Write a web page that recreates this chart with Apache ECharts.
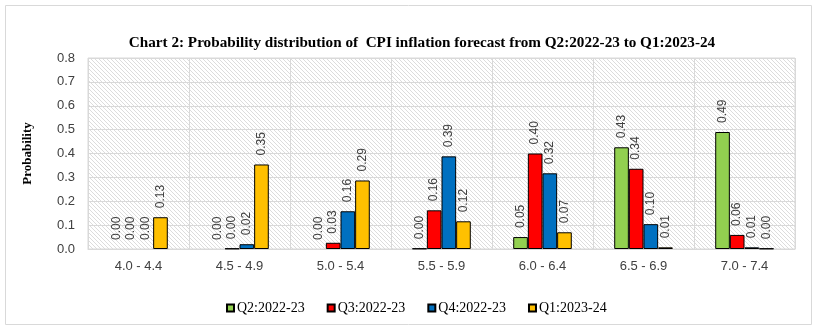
<!DOCTYPE html>
<html><head><meta charset="utf-8">
<script src="https://cdn.jsdelivr.net/npm/echarts@6/dist/echarts.min.js"></script>
<style>html,body{margin:0;padding:0;background:#fff}#c{width:817px;height:330px}</style>
</head><body><div id="c"></div>
<script>
const categories = ['4.0 - 4.4', '4.5 - 4.9', '5.0 - 5.4', '5.5 - 5.9', '6.0 - 6.4', '6.5 - 6.9', '7.0 - 7.4'];
const seriesNames = ['Q2:2022-23', 'Q3:2022-23', 'Q4:2022-23', 'Q1:2023-24'];
const q2_2022_23 = [0, 0, 0, 0.002, 0.05, 0.426, 0.49];
const q3_2022_23 = [0, 0.002, 0.026, 0.162, 0.40, 0.336, 0.059];
const q4_2022_23 = [0, 0.02, 0.158, 0.388, 0.317, 0.104, 0.007];
const q1_2023_24 = [0.133, 0.354, 0.287, 0.116, 0.07, 0.007, 0.002];
const yTicks = [0, 0.1, 0.2, 0.3, 0.4, 0.5, 0.6, 0.7, 0.8];
const colors = ['#92d050', '#ff0000', '#0070c0', '#ffc000'];

const pc = document.createElement('canvas');
pc.width = 4; pc.height = 4;
const g = pc.getContext('2d');
g.fillStyle = '#ffffff'; g.fillRect(0, 0, 4, 4);
g.strokeStyle = '#dcdcdc'; g.lineWidth = 1;
g.beginPath(); g.moveTo(-1, -1); g.lineTo(5, 5); g.moveTo(-1, 3); g.lineTo(1, 5); g.moveTo(3, -1); g.lineTo(5, 1); g.stroke();

const allData = [q2_2022_23, q3_2022_23, q4_2022_23, q1_2023_24];
const chart = echarts.init(document.getElementById('c'));
chart.setOption({
  animation: false,
  title: {
    text: 'Chart 2: Probability distribution of  CPI inflation forecast from Q2:2022-23 to Q1:2023-24',
    left: 417, top: 31, textAlign: 'center',
    textStyle: { fontFamily: 'Liberation Serif', fontWeight: 'bold', fontSize: 15.2, color: '#000' }
  },
  graphic: [{
    type: 'rect', shape: { x: 5.5, y: 5.5, width: 806, height: 319 },
    style: { fill: 'none', stroke: '#d9d9d9', lineWidth: 1 }, silent: true, z: -10
  }],
  legend: {
    left: 221, top: 296, itemWidth: 7, itemHeight: 7, itemGap: 22,
    icon: 'rect',
    textStyle: { fontFamily: 'Liberation Serif', fontSize: 14, color: '#000', padding: [0, 0, 0, -2] },
    data: seriesNames
  },
  grid: {
    left: 88, right: 22, top: 58, bottom: 81, show: true,
    backgroundColor: { image: pc, repeat: 'repeat' }, borderColor: '#d9d9d9', borderWidth: 1
  },
  xAxis: {
    type: 'category', data: categories,
    axisLine: { lineStyle: { color: '#d9d9d9' } },
    axisTick: { show: false },
    splitLine: { show: true, lineStyle: { color: '#d9d9d9' } },
    axisLabel: { fontFamily: 'Liberation Sans', fontSize: 13, color: '#404040', margin: 11 }
  },
  yAxis: {
    type: 'value', min: yTicks[0], max: yTicks[yTicks.length - 1], interval: 0.1,
    name: 'Probability', nameLocation: 'middle', nameGap: 54,
    nameTextStyle: { fontFamily: 'Liberation Serif', fontWeight: 'bold', fontSize: 13, color: '#000' },
    axisLine: { show: false }, axisTick: { show: false },
    splitLine: { lineStyle: { color: '#d9d9d9' } },
    axisLabel: { fontFamily: 'Liberation Sans', fontSize: 13, color: '#404040', margin: 13, formatter: v => v.toFixed(1) }
  },
  series: allData.map((d, i) => ({
    name: seriesNames[i], type: 'bar',
    data: d.map(v => v === 0 ? { value: v, itemStyle: { borderWidth: 0 } } : v),
    barGap: '0%', barCategoryGap: '42%',
    itemStyle: { color: colors[i], borderColor: '#000', borderWidth: 1 },
    label: {
      show: true, position: 'top', rotate: 90, align: 'left', verticalAlign: 'middle', distance: 9,
      fontFamily: 'Liberation Sans', fontSize: 12, color: '#404040',
      formatter: p => p.value.toFixed(2)
    }
  }))
});
</script></body></html>
